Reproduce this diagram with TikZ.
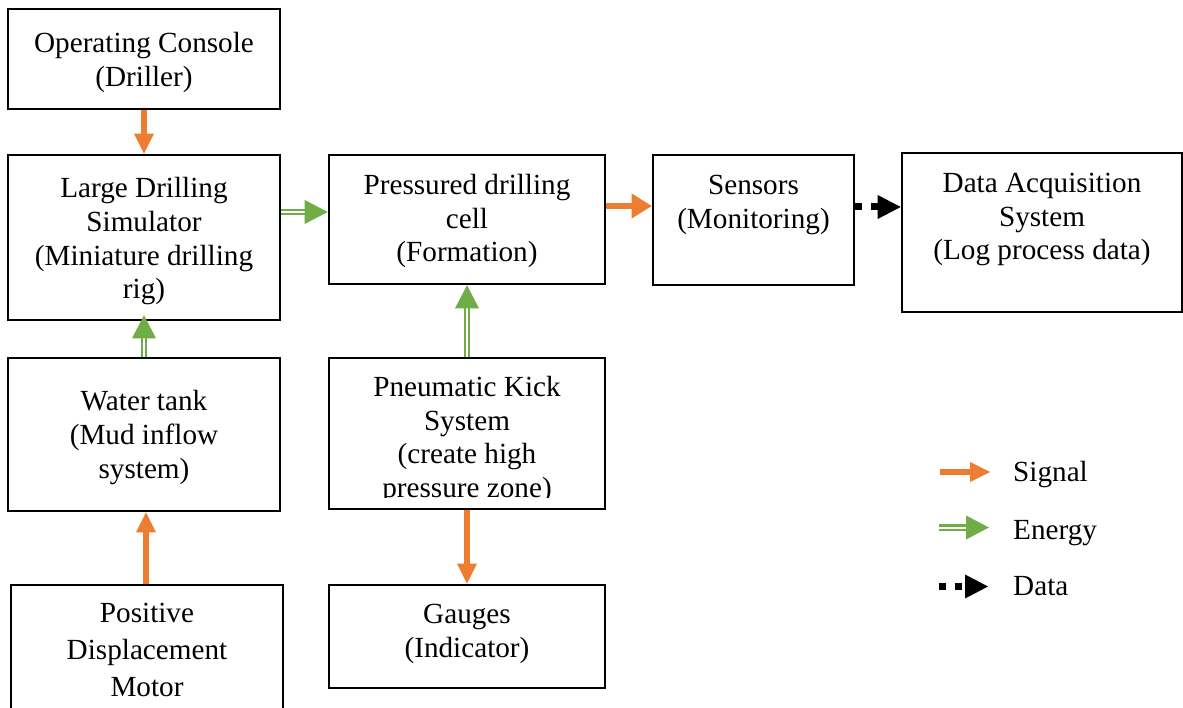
\documentclass[tikz,border=0pt]{standalone}
\usepackage{fontspec}
\setmainfont{Liberation Serif}
\usetikzlibrary{fit,decorations.markings}
\definecolor{sigcol}{HTML}{ED7D31}
\definecolor{engcol}{HTML}{70AD47}
\tikzset{
  box/.style={draw=black, line width=2.6pt, inner sep=0pt},
  txt/.style={font=\fontsize{29.2}{33.8}\selectfont, align=center, inner sep=0pt, anchor=north},
  lab/.style={font=\fontsize{29.2}{33.8}\selectfont, inner sep=0pt, anchor=base west},
  % filled triangular head placed at the end of a connector: colour, length, width
  headtri/.style n args={3}{postaction={decorate, decoration={markings,
      mark=at position 1 with {\fill[#1] (0,0) -- (-#2,#3/2) -- (-#2,-#3/2) -- cycle;}}}},
  sig/.style={draw=sigcol, line width=6.6pt, shorten >=19pt, headtri={sigcol}{20pt}{#1}},
  sig/.default=20pt,
  energy/.style={draw=engcol, double=white, double distance=2pt, line width=2.2pt,
      shorten >=22pt, headtri={engcol}{23pt}{24pt}},
  data/.style={draw=black, line width=7pt, dash pattern=on 7pt off 8.5pt,
      shorten >=22pt, headtri={black}{23pt}{24pt}}
}
\begin{document}
\begin{tikzpicture}[x=1pt,y=-1pt]
\useasboundingbox (0,0) rectangle (1183,708);
\fill[white] (0,0) rectangle (1183,708);
\clip (0,0) rectangle (1183,708);

% blocks
\node[box, fit={(8,9) (280,109)}] (console) {};
\node[box, fit={(8,155) (280,320)}] (sim) {};
\node[box, fit={(8,358) (280,511)}] (water) {};
\node[box, fit={(11,585) (283,740)}] (pdm) {};
\node[box, fit={(329,155) (605,284)}] (cell) {};
\node[box, fit={(329,358) (605,509)}] (pneu) {};
\node[box, fit={(329,585) (605,688)}] (gauges) {};
\node[box, fit={(653,155) (854,285)}] (sensors) {};
\node[box, fit={(902,153) (1182,312)}] (daq) {};

% block texts
\node[txt] (consoleT) at ([yshift=-21pt]console.north) {\strut Operating Console\\(Driller)};
\node[txt] (simT) at ([yshift=-20pt]sim.north) {\strut Large Drilling\\Simulator\\(Miniature drilling\\rig)};
\node[txt] (waterT) at ([yshift=-30pt]water.north) {\strut Water tank\\(Mud inflow\\system)};
\node[txt, font=\fontsize{29.2}{37}\selectfont] (pdmT) at ([yshift=-13.1pt]pdm.north) {\strut Positive\\Displacement\\Motor};
\node[txt] (cellT) at ([yshift=-16.8pt]cell.north) {\strut Pressured drilling\\cell\\(Formation)};
\begin{scope}
  \clip (329,358) rectangle (605,497.5);
  \node[txt] (pneuT) at ([yshift=-15.8pt]pneu.north) {\strut Pneumatic Kick\\System\\(create high\\pressure zone)};
\end{scope}
\node[txt] (gaugesT) at ([yshift=-15.8pt]gauges.north) {\strut Gauges\\(Indicator)};
\node[txt] (sensorsT) at ([yshift=-16.8pt]sensors.north) {\strut Sensors\\(Monitoring)};
\node[txt] (daqT) at ([yshift=-16.8pt]daq.north) {\strut Data Acquisition\\System\\(Log process data)};

% connectors
\draw[sig] (console.south) -- (sim.north);
\draw[energy] ([yshift=25.5pt]sim.east) -- ([yshift=7.5pt]cell.west);
\draw[sig=25pt] ([yshift=13.5pt]cell.east) -- ([yshift=14pt]sensors.west);
\draw[data] ([yshift=13pt]sensors.east) -- ([yshift=25.5pt]daq.west);
\draw[energy] (water.north) -- ([yshift=6pt]sim.south);
\draw[sig] ([xshift=-1pt]pdm.north) -- ([xshift=2pt]water.south);
\draw[energy] (pneu.north) -- (cell.south);
\draw[sig] (pneu.south) -- (gauges.north);

% legend
\node[lab] (lsig) at (1013,481) {Signal};
\node[lab] (leng) at (1013,539) {Energy};
\node[lab] (ldat) at (1013,595) {Data};
\coordinate (ls0) at (940,472);   \coordinate (ls1) at (990,472);
\coordinate (le0) at (939,527.5); \coordinate (le1) at (989,527.5);
\coordinate (ld0) at (939,586.5); \coordinate (ld1) at (988,586.5);
\draw[sig] (ls0) -- (ls1);
\draw[energy] (le0) -- (le1);
\draw[data] (ld0) -- (ld1);
\end{tikzpicture}
\end{document}
